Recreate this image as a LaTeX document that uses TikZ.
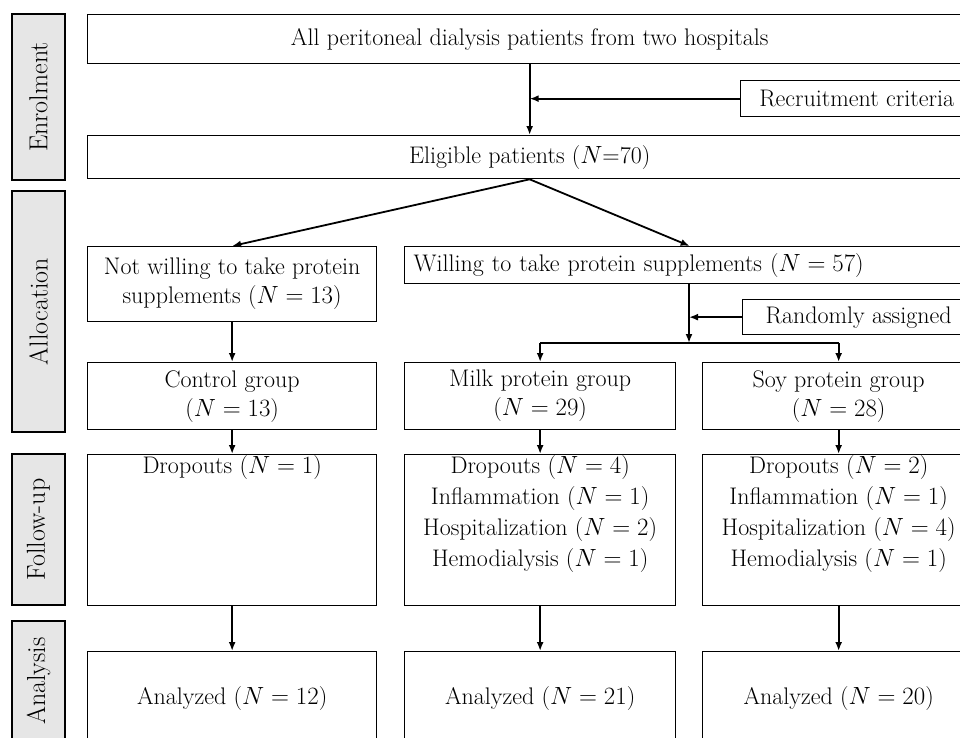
\documentclass[tikz,border=0pt]{standalone}
\usepackage{fontspec}
\usepackage{amsmath}
\usetikzlibrary{arrows.meta}
\usetikzlibrary{positioning}
\definecolor{sidegray}{RGB}{230,230,230}
\tikzset{box/.style = {draw, line width=1.3pt, inner sep=0, anchor=north west, align=center, font=\fontsize{24}{29}\selectfont}}
\tikzset{side/.style = {draw, fill=sidegray, line width=1.3pt, rotate=90, inner sep=0, minimum height=53, font=\fontsize{26}{29}\selectfont}}
\tikzset{arr/.style = {-{Latex[length=9pt, width=7pt]}, line width=1.8pt}}
\tikzset{txt/.style = {anchor=north, align=center, inner sep=1pt, font=\fontsize{24}{31}\selectfont}}

\begin{document}
\begin{tikzpicture}[x=1pt, y=-1pt]
      \useasboundingbox (0,0) rectangle (960,737);
      \clip (0,0) rectangle (960,737);
      \node [side, minimum width=166] (enr) at (38.5,97) {Enrolment};
      \node [side, minimum width=241] (alc) at (38.5,311.5) {Allocation};
      \node [side, minimum width=151] (fol) at (38.5,529.5) {Follow-up};
      \node [side, minimum width=120] (ana) at (38.5,681) {Analysis};

      \node [box, minimum width=884, minimum height=49] (all) at (87,14) {All peritoneal dialysis patients from two hospitals};
      \node [box, minimum width=232, minimum height=36] (recr) at (740,80) {Recruitment criteria};
      \node [box, minimum width=884, minimum height=43] (elig) at (87,135) {Eligible patients ($N$=70)};
      \node [box, minimum width=289, minimum height=75] (nw) at (87,246) {Not willing to take protein\\supplements ($N = 13$)};
      \node [box, minimum width=570, minimum height=37, text width=552, inner xsep=6pt, align=left] (will) at (404,246) {Willing to take protein supplements ($N = 57$)};
      \node [box, minimum width=232, minimum height=35] (rand) at (742,299) {Randomly assigned};
      \coordinate (split) at (689,343);

      \node [box, minimum width=289, minimum height=67] (ctrl) at (87,362) {Control group\\($N = 13$)};
      \node [box, minimum width=271, minimum height=67] (milk) at (404,362) {Milk protein group\\($N = 29$)};
      \node [box, minimum width=272, minimum height=67] (soy) at (702,362) {Soy protein group\\($N = 28$)};

      \node [box, minimum width=289, minimum height=151] (fctrl) at (87,454) {};
      \node [box, minimum width=271, minimum height=151] (fmilk) at (404,454) {};
      \node [box, minimum width=272, minimum height=151] (fsoy) at (702,454) {};
      \node [txt] (tctrl) at (fctrl.north) {Dropouts ($N = 1$)};
      \node [txt] (tmilk) at (fmilk.north) {Dropouts ($N = 4$)\\Inflammation ($N = 1$)\\Hospitalization ($N = 2$)\\Hemodialysis ($N = 1$)};
      \node [txt] (tsoy) at (fsoy.north) {Dropouts ($N = 2$)\\Inflammation ($N = 1$)\\Hospitalization ($N = 4$)\\Hemodialysis ($N = 1$)};

      \node [box, minimum width=289, minimum height=94] (actrl) at (87,651) {Analyzed ($N = 12$)};
      \node [box, minimum width=271, minimum height=94] (amilk) at (404,651) {Analyzed ($N = 21$)};
      \node [box, minimum width=272, minimum height=94] (asoy) at (702,651) {Analyzed ($N = 20$)};

      \draw [arr] (all) -- (elig);
      \draw [arr] (recr.west) -- (recr.west -| all.south);
      \draw [arr] (elig.south) -- (nw.north);
      \draw [arr] (elig.south) -- (will.north);
      \draw [arr] (will.south -| split) -- (split);
      \draw [arr] (rand.west) -- (rand.west -| split);
      \draw [line width=1.8pt] (split -| milk) -- (split -| soy);
      \draw [arr] (split -| milk) -- (milk);
      \draw [arr] (split -| soy) -- (soy);
      \draw [arr] (nw) -- (ctrl);
      \draw [arr] (ctrl) -- (fctrl);
      \draw [arr] (milk) -- (fmilk);
      \draw [arr] (soy) -- (fsoy);
      \draw [arr] (fctrl) -- (actrl);
      \draw [arr] (fmilk) -- (amilk);
      \draw [arr] (fsoy) -- (asoy);
    \end{tikzpicture}
\end{document}
